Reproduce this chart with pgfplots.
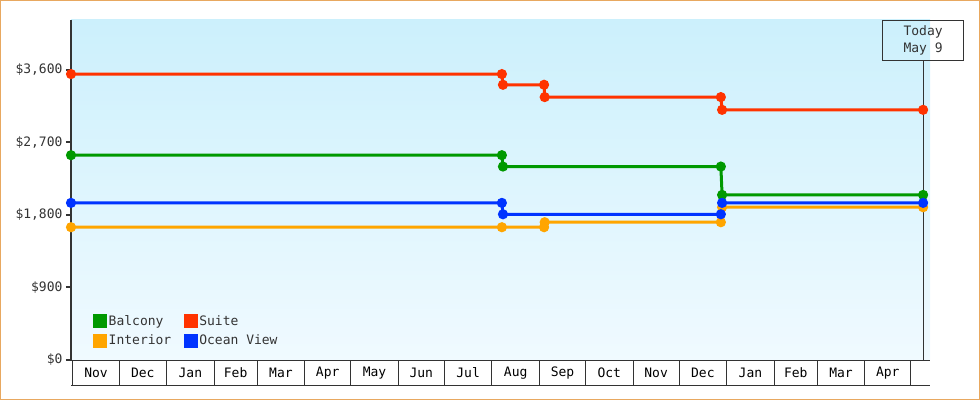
\documentclass[border=0pt]{standalone}
\usepackage{fontspec}
\setmainfont{DejaVu Sans Mono}
\usepackage{pgfplots}
\pgfplotsset{compat=1.18}

\definecolor{balcony}{HTML}{009900}
\definecolor{suite}{HTML}{FF3300}
\definecolor{interior}{HTML}{FFA500}
\definecolor{oceanview}{HTML}{0033FF}
\definecolor{axisgray}{HTML}{333333}
\definecolor{frameorange}{HTML}{E8A860}
\definecolor{bgtop}{HTML}{CCF0FC}
\definecolor{bgbottom}{HTML}{F0FAFF}

\begin{document}
\begin{tikzpicture}[font=\fontsize{13bp}{15bp}\selectfont]
\useasboundingbox (0,0) rectangle (980bp,400bp);
\begin{axis}[
  at={(71bp,40bp)}, anchor=south west,
  scale only axis, width=859bp, height=340bp,
  xmin=-1.3, xmax=558.5, ymin=0, ymax=4220,
  clip=false,
  axis x line*=bottom, axis y line*=left,
  axis background/.style={top color=bgtop, bottom color=bgbottom},
  x axis line style={draw=axisgray, line width=1bp},
  y axis line style={draw=axisgray, line width=2bp},
  tick align=outside,
  major tick length=25bp,
  xtick={0,30,61,92,120,151,181,212,242,273,304,334,365,395,426,457,485,516,546},
  xticklabels={},
  xtick style={draw=axisgray, line width=1bp},
  extra x ticks={15,45.5,76.5,106,135.5,166,196.5,227,257.5,288.5,319,349.5,380,410.5,441.5,471,500.5,531},
  extra x tick labels={Nov,Dec,Jan,Feb,Mar,Apr,May,Jun,Jul,Aug,Sep,Oct,Nov,Dec,Jan,Feb,Mar,Apr},
  extra x tick style={major tick length=0pt, xticklabel style={anchor=center, yshift=-13bp, text=black}},
  ytick={0,900,1800,2700,3600},
  yticklabels={\$0,\$900,{\$1,800},{\$2,700},{\$3,600}},
  ytick style={draw=axisgray, line width=2bp, /pgfplots/major tick length=5bp},
  yticklabel style={text=axisgray, xshift=20bp},
  legend columns=2,
  legend image code/.code={\fill[#1] (0bp,-5.5bp) rectangle (11bp,5.5bp);},
  legend cell align=left,
  legend style={draw=none, fill=none, at={(0,0)}, anchor=south west,
    xshift=22bp, yshift=12bp, inner sep=0pt, row sep=5bp,
    nodes={inner sep=1.5bp, text=axisgray},
    /tikz/every even column/.append style={column sep=11bp}},
]
% today marker line
\addplot[axisgray, line width=1bp, forget plot] coordinates {(554,0) (554,3723)};

\addplot[balcony, line width=3bp, mark=*, mark size=3.5bp] coordinates {
  (-1.3,2542) (279.5,2542) (280.2,2401) (422.2,2401) (423,2049) (554,2049)};
\addplot[suite, line width=3bp, mark=*, mark size=3.5bp] coordinates {
  (-1.3,3549) (279.5,3549) (280.2,3416) (307,3416) (307.4,3263) (422.2,3263) (423,3105) (554,3105)};
\addplot[interior, line width=3bp, mark=*, mark size=3.5bp] coordinates {
  (-1.3,1648) (279.5,1648) (307,1648) (307.4,1710) (422.2,1710) (423,1896) (554,1896)};
\addplot[oceanview, line width=3bp, mark=*, mark size=3.5bp] coordinates {
  (-1.3,1950) (279.5,1950) (280.2,1809) (422.2,1809) (423,1950) (554,1950)};
\legend{Balcony,Suite,Interior,Ocean View}

\node[draw=axisgray, line width=1bp, minimum width=81bp, minimum height=40bp,
  anchor=north, align=center, inner sep=0pt, text=axisgray,
  font=\fontsize{13bp}{17bp}\selectfont] at (axis cs:554,4220) {Today\\May 9};
\draw[axisgray, line width=1bp] ([yshift=-25bp]rel axis cs:0,0) -- ([yshift=-25bp]rel axis cs:1,0);
\end{axis}
\draw[frameorange, line width=1bp] (0.5bp,0.5bp) rectangle (979.5bp,399.5bp);
\end{tikzpicture}
\end{document}
